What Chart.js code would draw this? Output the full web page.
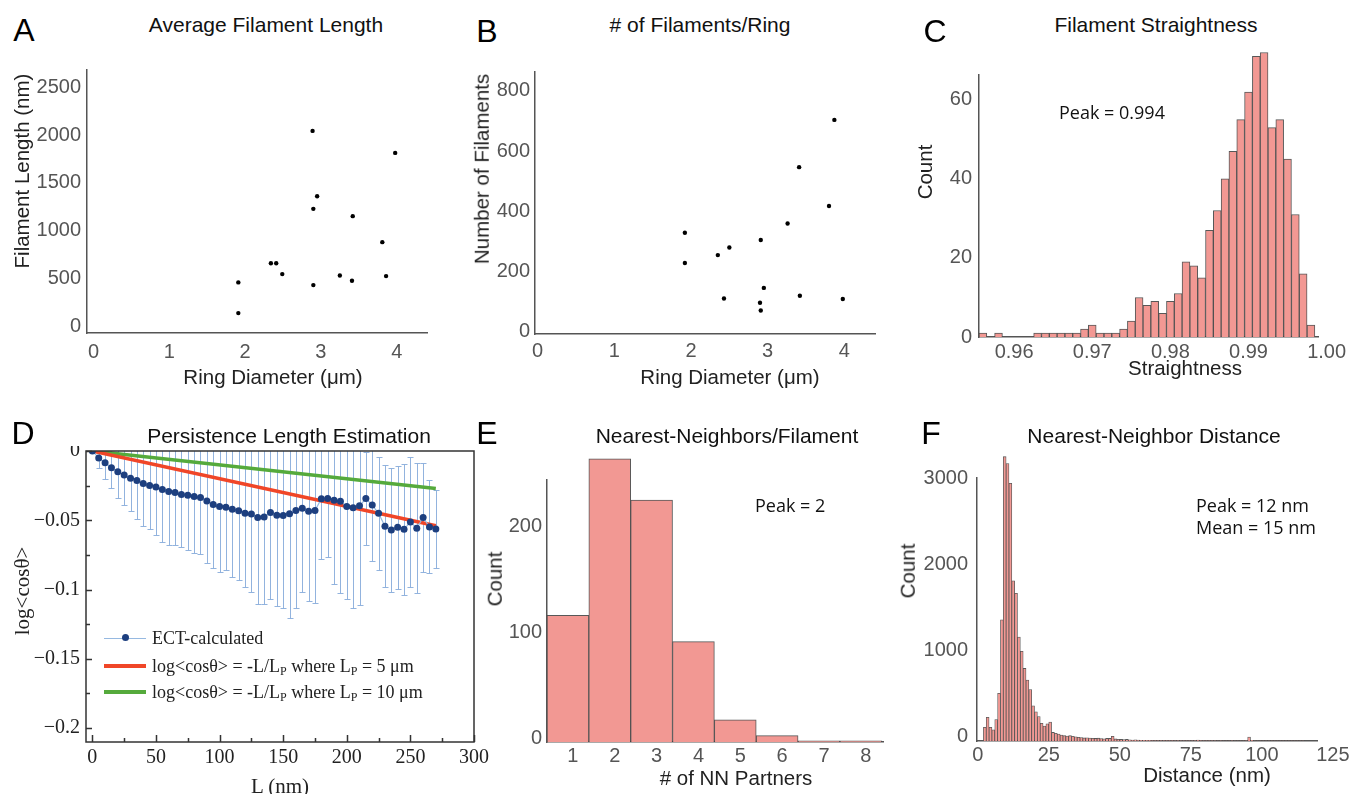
<!DOCTYPE html>
<html>
<head>
<meta charset="utf-8">
<script src="https://cdn.jsdelivr.net/npm/chart.js@4.4.1/dist/chart.umd.min.js"></script>
<style>
  body { margin: 0; width: 1355px; height: 794px; background: #fff; position: relative; overflow: hidden;
         font-family: "Liberation Sans", Arial, sans-serif; }
  canvas { position: absolute; }
  .t { position: absolute; white-space: nowrap; transform: translate(-50%, -50%); line-height: 1; z-index: 5; }
  .letter { font-size: 32px; color: #000; }
  .title { font-size: 21px; color: #111; }
  .axt { font-size: 20.5px; color: #222; }
  .ann { font-family: "Open Sans", sans-serif; font-size: 18px; color: #111; }
  .left { transform: translate(0, -50%); }
  .serif { font-family: "Liberation Serif", serif; font-size: 21px; color: #222; }
  .leg { position: absolute; font-family: "Liberation Serif", serif; font-size: 18px; color: #222;
         white-space: nowrap; line-height: 1; transform: translate(0, -50%); z-index: 5; }
  .sw { position: absolute; left: 104px; width: 42px; }
  .sub { font-size: 12px; position: relative; top: 3px; }
</style>
</head>
<body>
<canvas id="chartA" width="415" height="303" style="left:27px;top:65px"></canvas>
<canvas id="chartB" width="415" height="302" style="left:475px;top:67px"></canvas>
<canvas id="chartC" width="429" height="325" style="left:919px;top:47px"></canvas>
<canvas id="chartD" width="468" height="331" style="left:26px;top:446px"></canvas>
<canvas id="chartE" width="406" height="322" style="left:487px;top:455px"></canvas>
<canvas id="chartF" width="438" height="323" style="left:917px;top:453px"></canvas>

<div class="sw" style="top:638px;height:1px;background:rgb(150,185,225)"></div>
<div class="sw" style="top:634px;left:122px;width:7px;height:7px;border-radius:50%;background:#1d3f7f"></div>
<div class="sw" style="top:664px;height:4px;background:rgb(240,70,40)"></div>
<div class="sw" style="top:690px;height:4px;background:rgb(85,170,60)"></div>
<div class="leg" style="left:152px;top:638px">ECT-calculated</div>
<div class="leg" style="left:152px;top:666px">log&lt;cosθ&gt; = -L/L<span class="sub">P</span> where L<span class="sub">P</span> = 5 μm</div>
<div class="leg" style="left:152px;top:692px">log&lt;cosθ&gt; = -L/L<span class="sub">P</span> where L<span class="sub">P</span> = 10 μm</div>

<script>
// A: average filament length vs ring diameter
const ringDiamA = [1.91, 1.91, 2.34, 2.41, 2.49, 2.89, 2.90, 2.95, 2.90, 3.25, 3.41, 3.42, 3.81, 3.86, 3.98];
const filamentLength = [460, 139, 661, 661, 547, 2044, 1229, 1361, 432, 533, 477, 1153, 881, 526, 1814];
const diamTicks = [0, 1, 2, 3, 4];
const lengthTicks = [0, 500, 1000, 1500, 2000, 2500];

// B: number of filaments per ring
const ringDiamB = [1.92, 1.92, 2.35, 2.50, 2.43, 2.91, 2.95, 2.90, 2.91, 3.26, 3.41, 3.42, 3.80, 3.87, 3.98];
const filamentCount = [329, 229, 255, 280, 111, 305, 146, 97, 71, 360, 547, 120, 418, 704, 109];
const filamentCountTicks = [0, 200, 400, 600, 800];

// C: straightness histogram (bins of 0.001)
const straightBinStart = 0.9555;
const straightBinWidth = 0.001;
const straightCounts = [1, 0, 1, 0, 0, 0, 0, 1, 1, 1, 1, 1, 1, 2, 3, 1, 1, 1, 2, 4, 10, 8, 9, 6, 9, 11,
  19, 18, 15, 27, 32, 40, 47, 55, 62, 71, 72, 53, 55, 45, 31, 16, 3];
const straightTicks = [0.96, 0.97, 0.98, 0.99, 1.00];
const straightCountTicks = [0, 20, 40, 60];

// D: persistence length
const lengthL = [0, 5, 10, 15, 20, 25, 30, 35, 40, 45, 50, 55, 60, 65, 70, 75, 80, 85, 90, 95, 100,
  105, 110, 115, 120, 125, 130, 135, 140, 145, 150, 155, 160, 165, 170, 175, 180, 185, 190, 195, 200,
  205, 210, 215, 220, 225, 230, 235, 240, 245, 250, 255, 260, 265, 270];
const logCosMean = [0, -0.005, -0.0085, -0.012, -0.015, -0.0174, -0.0196, -0.0213, -0.0234, -0.0249, -0.026,
  -0.0278, -0.0292, -0.030, -0.0314, -0.032, -0.0328, -0.0336, -0.036, -0.0386, -0.040,
  -0.0406, -0.042, -0.0432, -0.0449, -0.0454, -0.048, -0.0476, -0.0444, -0.0464, -0.0466,
  -0.0452, -0.043, -0.0413, -0.0435, -0.043, -0.0345, -0.0343, -0.0355, -0.0362, -0.040,
  -0.041, -0.0396, -0.0343, -0.039, -0.045, -0.0543, -0.057, -0.055, -0.0565, -0.0512,
  -0.0558, -0.048, -0.0548, -0.0563];
const logCosErr = [0, 0.0075, 0.012, 0.0145, 0.0188, 0.0216, 0.0234, 0.0275, 0.0306, 0.0311, 0.0344,
  0.0379, 0.0388, 0.038, 0.0379, 0.0392, 0.0409, 0.0408, 0.045, 0.0459, 0.0474,
  0.045, 0.0486, 0.0498, 0.0536, 0.056, 0.0626, 0.063, 0.0623, 0.0652, 0.0669,
  0.0755, 0.0705, 0.0601, 0.0647, 0.0669, 0.0433, 0.0422, 0.0606, 0.0664, 0.067,
  0.0725, 0.0714, 0.0333, 0.0407, 0.0407, 0.0442, 0.0444, 0.0445, 0.0473, 0.0466,
  0.0468, 0.0394, 0.0336, 0.0282];
const modelL = [0, 270];
const modelLp5 = [0, -0.054];
const modelLp10 = [0, -0.027];
const lTicks = [0, 50, 100, 150, 200, 250, 300];
const lMinorTicks = [25, 75, 125, 175, 225, 275];
const logCosTicks = [0, -0.05, -0.1, -0.15, -0.2];
const logCosMinorTicks = [-0.025, -0.075, -0.125, -0.175];

// E: nearest neighbours per filament
const nnPartners = [1, 2, 3, 4, 5, 6, 7, 8];
const nnCounts = [120, 268, 229, 95, 21, 6, 1, 1];
const nnCountTicks = [0, 100, 200];

// F: nearest neighbour distance histogram (1 nm bins from 2 nm)
const distBinStart = 2;
const distBinWidth = 1;
const distCounts = [
  160, 275, 160, 130, 250, 555, 1410, 3310, 3230, 3000,
  1865, 1720, 1210, 1045, 845, 710, 600, 410, 340, 285,
  205, 175, 200, 220, 100, 90, 82, 70, 62, 58,
  62, 55, 50, 44, 40, 36, 38, 35, 32, 30,
  33, 28, 26, 30, 30, 55, 24, 20, 18, 16,
  18, 14, 12, 14, 10, 9, 8, 7, 7, 6,
  5, 5, 5, 4, 5, 4, 4, 3, 4, 3,
  3, 3, 2, 3, 4, 12, 6, 3, 2, 2,
  2, 2, 1, 2, 1, 1, 1, 2, 1, 1,
  1, 1, 2, 45, 8, 1, 1, 1, 1, 1,
  1, 1, 1, 1, 1, 1, 1, 1, 1, 1,
  1, 1, 1];
const distTicks = [0, 25, 50, 75, 100, 125];
const distCountTicks = [0, 1000, 2000, 3000];

Chart.defaults.font.family = "Liberation Sans";
Chart.defaults.animation = false;

const barFill = "rgb(242,152,147)";
const barEdge = "rgba(70,70,70,0.9)";
const sansTick = { family: "Liberation Sans", size: 20 };

function scaleCfg(o) {
  return {
    type: "linear",
    min: o.min,
    max: o.max,
    offset: false,
    grid: { display: false, drawTicks: false, offset: false },
    border: { display: o.border !== false, color: o.borderColor || "#555", width: 1.5 },
    ticks: {
      autoSkip: false,
      maxRotation: 0,
      padding: o.pad,
      color: o.color || "#555",
      font: o.font || sansTick,
      labelOffset: o.labelOffset || 0,
      callback: o.format || ((v) => String(v)),
    },
    afterBuildTicks: (s) => {
      s.ticks = o.ticks.map((v) => ({ value: v }));
    },
    afterFit: (s) => {
      if (o.width != null) s.width = o.width;
      if (o.height != null) s.height = o.height;
      s.paddingLeft = 0;
      s.paddingRight = 0;
      s.paddingTop = 0;
      s.paddingBottom = 0;
    },
  };
}

function baseOptions(padTop, padRight, scales) {
  return {
    responsive: false,
    devicePixelRatio: 1,
    animation: false,
    layout: { padding: { top: padTop, right: padRight, left: 0, bottom: 0 }, autoPadding: false },
    plugins: { legend: { display: false }, tooltip: { enabled: false }, title: { display: false } },
    scales,
  };
}

function pairs(xs, ys) {
  return xs.map((x, i) => ({ x, y: ys[i] }));
}

function binned(start, width, counts) {
  return counts.map((c, i) => ({ x: start + (i + 0.5) * width, y: c }));
}

// A
new Chart(document.getElementById("chartA"), {
  type: "scatter",
  data: { datasets: [{ data: pairs(ringDiamA, filamentLength), backgroundColor: "#000", pointRadius: 2.2, borderWidth: 0 }] },
  options: baseOptions(5, 15, {
    x: scaleCfg({ min: -0.087, max: 4.4, ticks: diamTicks, pad: 7, height: 35 }),
    y: scaleCfg({ min: -69, max: 2681, ticks: lengthTicks, pad: 6, width: 60 }),
  }),
});

// B
new Chart(document.getElementById("chartB"), {
  type: "scatter",
  data: { datasets: [{ data: pairs(ringDiamB, filamentCount), backgroundColor: "#000", pointRadius: 2.2, borderWidth: 0 }] },
  options: baseOptions(5, 15, {
    x: scaleCfg({ min: -0.035, max: 4.4, ticks: diamTicks, pad: 5, height: 35 }),
    y: scaleCfg({ min: -7, max: 863, ticks: filamentCountTicks, pad: 5, width: 60 }),
  }),
});

// C
new Chart(document.getElementById("chartC"), {
  type: "bar",
  data: {
    datasets: [{
      data: binned(straightBinStart, straightBinWidth, straightCounts),
      backgroundColor: barFill, borderColor: barEdge, borderWidth: 1,
      barPercentage: 1, categoryPercentage: 1, clip: false,
    }],
  },
  options: baseOptions(28, 30, {
    x: scaleCfg({ min: 0.9555, max: 0.9989, ticks: straightTicks, pad: 3, height: 35, format: (v) => v.toFixed(2) }),
    y: scaleCfg({ min: 0, max: 66.3, ticks: straightCountTicks, pad: 7, width: 60 }),
  }),
});

// D
const persistenceExtras = {
  id: "persistenceExtras",
  beforeDatasetsDraw(chart) {
    const { ctx, chartArea: a, scales: { x, y } } = chart;
    ctx.save();
    ctx.beginPath();
    ctx.rect(a.left, a.top, a.right - a.left, a.bottom - a.top);
    ctx.clip();
    ctx.strokeStyle = "rgba(140,175,220,0.95)";
    ctx.lineWidth = 1;
    lengthL.forEach((L, i) => {
      if (!logCosErr[i]) return;
      const px = Math.round(x.getPixelForValue(L)) + 0.5;
      const lo = Math.round(y.getPixelForValue(logCosMean[i] - logCosErr[i])) + 0.5;
      const hi = Math.round(y.getPixelForValue(logCosMean[i] + logCosErr[i])) + 0.5;
      ctx.beginPath();
      ctx.moveTo(px, lo); ctx.lineTo(px, hi);
      ctx.moveTo(px - 3, lo); ctx.lineTo(px + 3, lo);
      ctx.moveTo(px - 3, hi); ctx.lineTo(px + 3, hi);
      ctx.stroke();
    });
    ctx.restore();
  },
  afterDraw(chart) {
    const { ctx, chartArea: a, scales: { x, y } } = chart;
    ctx.save();
    ctx.strokeStyle = "#333";
    ctx.lineWidth = 1.5;
    ctx.strokeRect(a.left, a.top, a.right - a.left, a.bottom - a.top);
    ctx.beginPath();
    const tick = (vals, len, horiz) => vals.forEach((v) => {
      if (horiz) {
        const px = Math.round(x.getPixelForValue(v)) + 0.5;
        ctx.moveTo(px, a.bottom); ctx.lineTo(px, a.bottom - len);
      } else {
        const py = Math.round(y.getPixelForValue(v)) + 0.5;
        ctx.moveTo(a.left, py); ctx.lineTo(a.left + len, py);
      }
    });
    tick(lTicks, 7, true);
    tick(lMinorTicks, 4, true);
    tick(logCosTicks, 6, false);
    tick(logCosMinorTicks, 4, false);
    ctx.stroke();
    ctx.restore();
  },
};

const serifTick = { family: "Liberation Serif", size: 20 };
new Chart(document.getElementById("chartD"), {
  type: "line",
  data: {
    datasets: [
      {
        data: pairs(lengthL, logCosMean), borderColor: "rgb(150,185,225)", borderWidth: 1.2,
        pointRadius: 3.5, pointBackgroundColor: "#1d3f7f", pointBorderWidth: 0, order: 0,
      },
      { data: pairs(modelL, modelLp5), borderColor: "rgb(240,70,40)", borderWidth: 3.5, pointRadius: 0, order: 1 },
      { data: pairs(modelL, modelLp10), borderColor: "rgb(85,170,60)", borderWidth: 3.5, pointRadius: 0, order: 1 },
    ],
  },
  options: baseOptions(5, 20, {
    x: scaleCfg({ min: -5, max: 300, ticks: lTicks, pad: 4, height: 35, font: serifTick, color: "#222", border: false }),
    y: scaleCfg({
      min: -0.21, max: 0, ticks: logCosTicks, pad: 6, width: 60, font: serifTick, color: "#222", border: false,
      format: (v) => (v === 0 ? "0" : "\u2212" + String(Math.abs(v))),
    }),
  }),
  plugins: [persistenceExtras],
});

// E
new Chart(document.getElementById("chartE"), {
  type: "bar",
  data: {
    datasets: [{
      data: pairs(nnPartners, nnCounts),
      backgroundColor: barFill, borderColor: barEdge, borderWidth: 1,
      barPercentage: 1, categoryPercentage: 1, clip: false,
    }],
  },
  options: baseOptions(25, 10, {
    x: scaleCfg({ min: 0.5, max: 8.53, ticks: nnPartners, pad: 2, height: 35, labelOffset: 5 }),
    y: scaleCfg({ min: 0, max: 248, ticks: nnCountTicks, pad: 5, width: 60, labelOffset: -4 }),
  }),
});

// F
new Chart(document.getElementById("chartF"), {
  type: "bar",
  data: {
    datasets: [{
      data: binned(distBinStart, distBinWidth, distCounts),
      backgroundColor: barFill, borderColor: barEdge, borderWidth: 0.8,
      barPercentage: 1, categoryPercentage: 1, clip: false,
    }],
  },
  options: baseOptions(25, 38, {
    x: scaleCfg({ min: -0.25, max: 119.4, ticks: distTicks, pad: 2, height: 35 }),
    y: scaleCfg({ min: 0, max: 3062, ticks: distCountTicks, pad: 9, width: 60, labelOffset: -5 }),
  }),
});

// text
function addText(txt, x, y, cls, rotate) {
  const d = document.createElement("div");
  d.className = "t " + cls;
  d.textContent = txt;
  d.style.left = x + "px";
  d.style.top = y + "px";
  if (rotate) d.style.transform = "translate(-50%, -50%) rotate(-90deg)";
  document.body.appendChild(d);
}

addText("A", 24, 30, "letter");
addText("B", 487, 31, "letter");
addText("C", 935, 31, "letter");
addText("D", 23, 433, "letter");
addText("E", 487, 433, "letter");
addText("F", 931, 433, "letter");

addText("Average Filament Length", 266, 24, "title");
addText("# of Filaments/Ring", 700, 24, "title");
addText("Filament Straightness", 1156, 24, "title");
addText("Persistence Length Estimation", 289, 435, "title");
addText("Nearest-Neighbors/Filament", 727, 435, "title");
addText("Nearest-Neighbor Distance", 1154, 435, "title");

addText("Filament Length (nm)", 22, 171, "axt", true);
addText("Ring Diameter (μm)", 273, 377, "axt");
addText("Number of Filaments", 482, 169, "axt", true);
addText("Ring Diameter (μm)", 730, 377, "axt");
addText("Count", 925, 172, "axt", true);
addText("Straightness", 1185, 368, "axt");
addText("log<cosθ>", 22, 591, "serif", true);
addText("L (nm)", 280, 786, "serif");
addText("Count", 495, 579, "axt", true);
addText("# of NN Partners", 736, 778, "axt");
addText("Count", 908, 571, "axt", true);
addText("Distance (nm)", 1207, 775, "axt");

addText("Peak = 0.994", 1059, 112, "ann left");
addText("Peak = 2", 755, 505, "ann left");
addText("Peak = 12 nm", 1196, 505, "ann left");
addText("Mean = 15 nm", 1196, 527, "ann left");
</script>
</body>
</html>
